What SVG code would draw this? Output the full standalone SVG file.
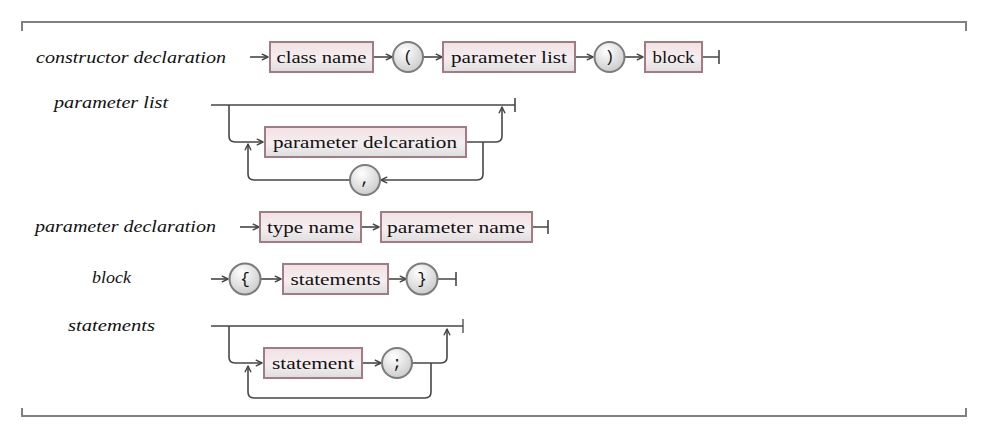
<svg xmlns="http://www.w3.org/2000/svg" width="987" height="441" viewBox="0 0 987 441">
<defs>
<linearGradient id="gBox" x1="0" y1="0" x2="0" y2="1">
<stop offset="0" stop-color="#f1e1e4"/>
<stop offset="0.55" stop-color="#f5eef0"/>
<stop offset="1" stop-color="#dddddd"/>
</linearGradient>
<radialGradient id="gCir" cx="0.4" cy="0.3" r="0.75">
<stop offset="0" stop-color="#ffffff"/>
<stop offset="1" stop-color="#c9c9c9"/>
</radialGradient>
<marker id="arr" viewBox="0 0 8 8" refX="7" refY="4" markerWidth="8" markerHeight="8" markerUnits="userSpaceOnUse" orient="auto">
<path d="M1.2,1.2 L7,4 L1.2,6.8" fill="none" stroke="#444" stroke-width="1.4" stroke-linejoin="round" stroke-linecap="round"/>
</marker>
</defs>
<style>
.frame{fill:none;stroke:#808080;stroke-width:2}
.c{fill:none;stroke:#474747;stroke-width:1.6}
.a{marker-end:url(#arr)}
.box{fill:url(#gBox);stroke:#a27c82;stroke-width:2}
.cir{fill:url(#gCir);stroke:#7b7b7b;stroke-width:2}
.lbl{font-style:italic;font-size:17px;fill:#111}
.bt{font-size:17px;fill:#111;text-anchor:middle}
.ct{font-size:16px;fill:#111;text-anchor:middle}
</style>
<rect width="987" height="441" fill="#ffffff"/>
<g id="frame">
<path class="frame" d="M22,31 V22 H966 V31"/>
<path class="frame" d="M22,408 V416 H966 V408"/>
</g>
<g id="labels" font-family="Times New Roman, Tinos, Liberation Serif, Noto Serif, DejaVu Serif, FreeSerif, serif">
<text class="lbl" x="36" y="63" textLength="190" lengthAdjust="spacingAndGlyphs">constructor declaration</text>
<text class="lbl" x="54" y="108" textLength="114" lengthAdjust="spacingAndGlyphs">parameter list</text>
<text class="lbl" x="35" y="232" textLength="181" lengthAdjust="spacingAndGlyphs">parameter declaration</text>
<text class="lbl" x="92" y="283" textLength="39" lengthAdjust="spacingAndGlyphs">block</text>
<text class="lbl" x="68" y="331" textLength="87" lengthAdjust="spacingAndGlyphs">statements</text>
</g>
<g id="connectors">
<path class="c a" d="M250,57 H268"/>
<path class="c a" d="M373,57 H392"/>
<path class="c a" d="M423,57 H442"/>
<path class="c a" d="M575,57 H593"/>
<path class="c a" d="M625,57 H643"/>
<path class="c" d="M702,57 H719 M719,50 V64"/>
<path class="c" d="M211,105 H515 M515,98 V112"/>
<path class="c a" d="M229,105 V136 Q229,142 235,142 H263"/>
<path class="c a" d="M466,142 H496 Q502,142 502,136 V107"/>
<path class="c a" d="M483,142 V174 Q483,180 477,180 H381"/>
<path class="c a" d="M350,180 H254 Q248,180 248,174 V144"/>
<path class="c a" d="M240,227 H259"/>
<path class="c a" d="M361,227 H379"/>
<path class="c" d="M532,227 H548 M548,220 V234"/>
<path class="c a" d="M211,279 H228"/>
<path class="c a" d="M261,279 H281"/>
<path class="c a" d="M388,279 H406"/>
<path class="c" d="M437,279 H456 M456,272 V286"/>
<path class="c" d="M211,326 H463 M463,319 V333" style="stroke-width:1.3"/>
<path class="c a" d="M229,326 V357 Q229,363 235,363 H262"/>
<path class="c a" d="M362,363 H381"/>
<path class="c a" d="M412,363 H441 Q447,363 447,357 V329"/>
<path class="c a" d="M431,363 V392 Q431,398 425,398 H254 Q248,398 248,392 V366"/>
</g>
<g font-family="Times New Roman, Tinos, Liberation Serif, Noto Serif, DejaVu Serif, serif">
<g id="n-classname"><rect class="box" x="270" y="42" width="103" height="30"/><text class="bt" x="321.5" y="63" textLength="90" lengthAdjust="spacingAndGlyphs">class name</text></g>
<g id="n-paramlist"><rect class="box" x="443" y="42" width="132" height="30"/><text class="bt" x="509" y="63" textLength="116" lengthAdjust="spacingAndGlyphs">parameter list</text></g>
<g id="n-block"><rect class="box" x="645" y="42" width="57" height="30"/><text class="bt" x="673.5" y="63" textLength="42" lengthAdjust="spacingAndGlyphs">block</text></g>
<g id="n-paramdecl"><rect class="box" x="265" y="127" width="201" height="30"/><text class="bt" x="365" y="148" textLength="184" lengthAdjust="spacingAndGlyphs">parameter delcaration</text></g>
<g id="n-typename"><rect class="box" x="260" y="212" width="101" height="30"/><text class="bt" x="310.5" y="233" textLength="87" lengthAdjust="spacingAndGlyphs">type name</text></g>
<g id="n-paramname"><rect class="box" x="381" y="212" width="151" height="30"/><text class="bt" x="456" y="233" textLength="138" lengthAdjust="spacingAndGlyphs">parameter name</text></g>
<g id="n-statements"><rect class="box" x="283" y="264" width="105" height="30"/><text class="bt" x="335.5" y="285" textLength="90" lengthAdjust="spacingAndGlyphs">statements</text></g>
<g id="n-statement"><rect class="box" x="264" y="348" width="98" height="30"/><text class="bt" x="313" y="369" textLength="82" lengthAdjust="spacingAndGlyphs">statement</text></g>
</g>
<g font-family="Courier New, Liberation Mono, DejaVu Sans Mono, monospace">
<g id="n-lparen"><circle class="cir" cx="408" cy="57" r="15"/><text class="ct" x="408" y="62">(</text></g>
<g id="n-rparen"><circle class="cir" cx="609.5" cy="57" r="15"/><text class="ct" x="609.5" y="62">)</text></g>
<g id="n-comma"><circle class="cir" cx="365" cy="180" r="15"/><text class="ct" x="365" y="184">,</text></g>
<g id="n-lbrace"><circle class="cir" cx="245" cy="279" r="15.5"/><text class="ct" x="245" y="284">{</text></g>
<g id="n-rbrace"><circle class="cir" cx="422" cy="279" r="15.5"/><text class="ct" x="422" y="284">}</text></g>
<g id="n-semicolon"><circle class="cir" cx="397" cy="363" r="15"/><text class="ct" x="397" y="368">;</text></g>
</g>
</svg>
